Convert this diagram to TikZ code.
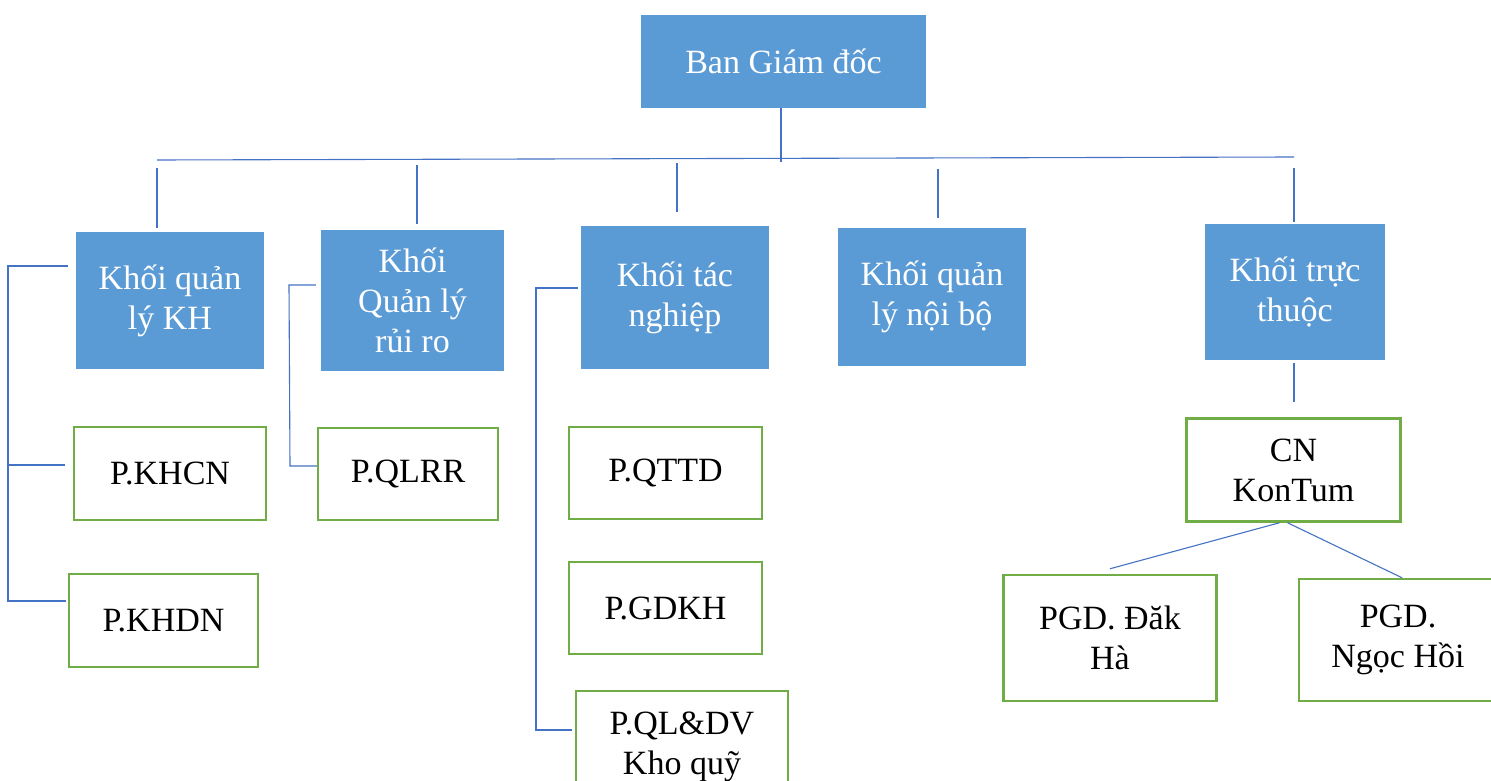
\documentclass[tikz,border=0pt]{standalone}
\usepackage{fontspec}
\setmainfont{Liberation Serif}
\usepackage{tikz}
\definecolor{khoiblue}{HTML}{5B9BD5}
\definecolor{phonggreen}{HTML}{70AD47}
\definecolor{linkblue}{HTML}{4472C4}
\tikzstyle{khoi} = [fill=khoiblue,text=white,align=center,inner sep=0]
\tikzstyle{phong} = [draw=phonggreen,line width=2.5pt,fill=white,align=center,inner sep=0]
\tikzstyle{link} = [draw=linkblue,line width=1.1pt]

\begin{document}
\begin{tikzpicture}[x=1pt,y=-1pt,font=\fontsize{34}{40}\selectfont]
    \clip (0,0) rectangle (1491,781);

    \node[khoi,minimum width=285,minimum height=93] (ban) at (783.5,61.5) {Ban Giám đốc};

    \node[khoi,minimum width=188,minimum height=137] (kh) at (170,300.5) {Khối quản\\lý KH};
    \node[khoi,minimum width=183,minimum height=141] (rr) at (412.5,300) {Khối\\Quản lý\\rủi ro};
    \node[khoi,minimum width=188,minimum height=143] (tn) at (675,297.5) {Khối tác\\nghiệp};
    \node[khoi,minimum width=188,minimum height=138] (nb) at (932,297) {Khối quản\\lý nội bộ};
    \node[khoi,minimum width=180,minimum height=136] (tt) at (1295,292) {Khối trực\\thuộc};

    \node[phong,minimum width=192,minimum height=93] (khcn) at (170,473.5) {P.KHCN};
    \node[phong,minimum width=189,minimum height=93] (khdn) at (163.5,620.5) {P.KHDN};
    \node[phong,minimum width=180,minimum height=92] (qlrr) at (408,474) {P.QLRR};
    \node[phong,minimum width=193,minimum height=92] (qttd) at (665.5,473) {P.QTTD};
    \node[phong,minimum width=193,minimum height=92] (gdkh) at (665.5,608) {P.GDKH};
    \node[phong,minimum width=212,minimum height=112] (kq) at (682,747) {P.QL\&DV\\Kho quỹ};

    \node[phong,minimum width=214,minimum height=103] (cn) at (1293.5,470) {CN\\KonTum};
    \node[phong,minimum width=213,minimum height=126] (dh) at (1110,638) {PGD. Đăk\\Hà};
    \node[phong,minimum width=198,minimum height=122] (nh) at (1398,640) {PGD.\\Ngọc Hồi};

    \coordinate (busL) at (157,160);
    \coordinate (busR) at (1294,157);
    \coordinate (busM) at (781,162);
    \draw[link] (busL) -- (busR);
    \draw[link] (ban.south -| busM) -- (busM);

    \coordinate (s1) at (157,168);
    \coordinate (s2) at (417,165);
    \coordinate (s3) at (677,163);
    \coordinate (s4) at (938,169);
    \coordinate (s5) at (1294,168);
    \draw[link,shorten >=4] (s1) -- (s1 |- kh.north);
    \draw[link,shorten >=5] (s2) -- (s2 |- rr.north);
    \draw[link,shorten >=14] (s3) -- (s3 |- tn.north);
    \draw[link,shorten >=10] (s4) -- (s4 |- nb.north);
    \draw[link,shorten >=2] (s5) -- (s5 |- tt.north);

    \coordinate (kTop) at (8,266);
    \coordinate (kMid) at (8,465);
    \coordinate (kBot) at (8,601);
    \draw[link] ([xshift=-8]kh.west |- kTop) -- (kTop) -- (kBot) -- ([xshift=-2]khdn.west |- kBot);
    \draw[link] (kMid) -- ([xshift=-8]khcn.west |- kMid);

    \coordinate (rTop) at (289,285);
    \coordinate (rBot) at (290,466);
    \draw[link] ([xshift=-5]rr.west |- rTop) -- (rTop) -- (rBot) -- (qlrr.west |- rBot);

    \coordinate (tTop) at (536,288);
    \coordinate (tBot) at (536,730);
    \draw[link] ([xshift=-3]tn.west |- tTop) -- (tTop) -- (tBot) -- ([xshift=-3]kq.west |- tBot);

    \draw[link,shorten <=3,shorten >=15] (tt.south -| s5) -- (s5 |- cn.north);
    \draw[link] ([xshift=-14]cn.south) -- ([yshift=5]dh.north);
    \draw[link] ([xshift=-6]cn.south) -- ([xshift=4]nh.north);

\end{tikzpicture}
\end{document}
